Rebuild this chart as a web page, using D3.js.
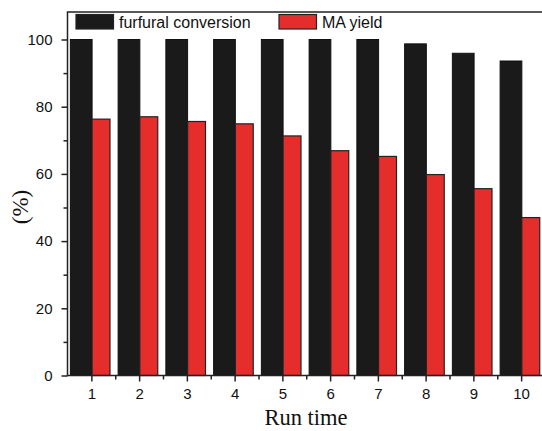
<!DOCTYPE html>
<html>
<head>
<meta charset="utf-8">
<script src="https://cdn.jsdelivr.net/npm/d3@7"></script>
<style>
	body { margin: 0; background: #fff; }
	svg { display: block; }
</style>
</head>
<body>
<div id="chart"></div>
<script>
const runs = [1, 2, 3, 4, 5, 6, 7, 8, 9, 10];
const conversion = [100, 100, 100, 100, 100, 100, 100, 98.7, 95.9, 93.6];
const maYield = [76.3, 77.0, 75.6, 74.9, 71.3, 66.9, 65.2, 59.8, 55.6, 47.0];
const yTicks = [0, 20, 40, 60, 80, 100];
const seriesNames = ['furfural conversion', 'MA yield'];

const width = 542;
const height = 431;
const m = { top: 12, left: 67.5, bottom: 375.5, right: 545 };

const svg = d3.select('#chart').append('svg')
	.attr('width', width)
	.attr('height', height);

const xScale = d3.scaleLinear().domain([0.5, 10.5]).range([m.left, m.right]);
const yScale = d3.scaleLinear().domain([0, 100]).range([m.bottom, 39.5]);

// bars
const black = '#1a1a1a';
const red = '#e52e2b';

svg.append('g')
	.selectAll('rect')
	.data(runs)
	.join('rect')
	.attr('x', (d) => xScale(d - 0.44))
	.attr('width', (d) => xScale(d + 0.015) - xScale(d - 0.44))
	.attr('y', (d, i) => yScale(conversion[i]))
	.attr('height', (d, i) => yScale(0) - yScale(conversion[i]))
	.attr('fill', black)
	.attr('stroke', '#111')
	.attr('stroke-width', 1);

svg.append('g')
	.selectAll('rect')
	.data(runs)
	.join('rect')
	.attr('x', (d) => xScale(d + 0.015))
	.attr('width', (d) => xScale(d + 0.39) - xScale(d + 0.015))
	.attr('y', (d, i) => yScale(maYield[i]))
	.attr('height', (d, i) => yScale(0) - yScale(maYield[i]))
	.attr('fill', red)
	.attr('stroke', '#222')
	.attr('stroke-width', 1.2);

// axes
const xAxis = d3.axisBottom(xScale)
	.tickValues(runs)
	.tickSize(6)
	.tickSizeOuter(0)
	.tickPadding(7);

const xMinor = d3.axisBottom(xScale)
	.tickValues(runs.map((d) => d + 0.5))
	.tickSize(4)
	.tickSizeOuter(0)
	.tickFormat('');

const yAxis = d3.axisLeft(yScale)
	.tickValues(yTicks)
	.tickSize(6)
	.tickSizeOuter(0)
	.tickPadding(9);

const yMinor = d3.axisLeft(yScale)
	.tickValues([10, 30, 50, 70, 90])
	.tickSize(4)
	.tickSizeOuter(0)
	.tickFormat('');

function styleAxis(g) {
	g.select('.domain').remove();
	g.selectAll('line').attr('stroke', '#222').attr('stroke-width', 1.5);
	g.selectAll('text')
		.attr('fill', '#111')
		.style('font-family', '"Liberation Sans", Arial, sans-serif')
		.style('font-size', '15px');
}

svg.append('g').attr('transform', `translate(0,${m.bottom})`).call(xAxis).call(styleAxis);
svg.append('g').attr('transform', `translate(0,${m.bottom})`).call(xMinor).call(styleAxis);
svg.append('g').attr('transform', `translate(${m.left},0)`).call(yAxis).call(styleAxis);
svg.append('g').attr('transform', `translate(${m.left},0)`).call(yMinor).call(styleAxis);

// frame
svg.append('rect')
	.attr('x', m.left)
	.attr('y', m.top)
	.attr('width', m.right - m.left)
	.attr('height', m.bottom - m.top)
	.attr('fill', 'none')
	.attr('stroke', '#222')
	.attr('stroke-width', 1.5);

// axis titles
svg.append('text')
	.attr('x', 306)
	.attr('y', 425)
	.attr('text-anchor', 'middle')
	.style('font-family', '"Liberation Serif", "Times New Roman", serif')
	.style('font-size', '22.5px')
	.attr('fill', '#111')
	.text('Run time');

svg.append('text')
	.attr('transform', 'translate(28,207) rotate(-90)')
	.attr('text-anchor', 'middle')
	.style('font-family', '"Liberation Serif", "Times New Roman", serif')
	.style('font-size', '23px')
	.attr('fill', '#111')
	.text('(%)');

// legend
const legend = svg.append('g');
const legendX = [76, 279];
const legendColors = [black, red];
seriesNames.forEach((name, i) => {
	legend.append('rect')
		.attr('x', legendX[i])
		.attr('y', 14.5)
		.attr('width', 37.5)
		.attr('height', 14.5)
		.attr('fill', legendColors[i])
		.attr('stroke', '#222')
		.attr('stroke-width', 1.2);
	legend.append('text')
		.attr('x', legendX[i] + 43)
		.attr('y', 28)
		.style('font-family', '"Liberation Sans", Arial, sans-serif')
		.style('font-size', '16px')
		.attr('fill', '#111')
		.text(name);
});
</script>
</body>
</html>
